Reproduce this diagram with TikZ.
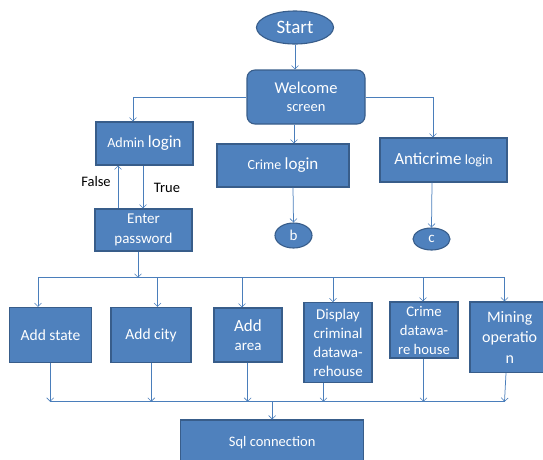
\documentclass[tikz,border=0pt]{standalone}
\usepackage{fontspec}
\setmainfont{Carlito}
\usetikzlibrary{shapes.geometric,arrows.meta}
\definecolor{boxfill}{HTML}{4F81BD}
\definecolor{boxline}{HTML}{385D8A}
\definecolor{conn}{HTML}{4A7EBB}
\tikzset{
  box/.style={rectangle,draw=boxline,fill=boxfill,line width=1.1pt,inner sep=0pt,
    text=white,align=center,font=\fontsize{15}{19}\selectfont},
  oval/.style={ellipse,draw=boxline,fill=boxfill,line width=1.1pt,inner sep=0pt,
    text=white,align=center,font=\fontsize{15}{19}\selectfont},
  arr/.style={draw=conn,line width=0.75pt,-{Straight Barb[length=3.5pt,width=7pt,line width=0.6pt]}},
  ln/.style={draw=conn,line width=0.75pt},
  lbl/.style={text=black,font=\fontsize{14.5}{17}\selectfont,inner sep=0pt}
}
\begin{document}
\begin{tikzpicture}[x=1pt,y=-1pt]
\useasboundingbox (0,0) rectangle (543,459);
% nodes
\node[oval,minimum width=77pt,minimum height=33pt,font=\fontsize{19}{22}\selectfont] (start) at (295,27.5) {Start};
\node[box,rounded corners=8pt,minimum width=118pt,minimum height=54pt] (welcome) at (306,97)
  {{\fontsize{16.5}{21}\selectfont Welcome}\\[-1pt]{\fontsize{14.5}{21}\selectfont screen}};
\node[box,minimum width=97pt,minimum height=43pt] (admin) at (144.5,143.5)
  {{\fontsize{14}{17}\selectfont Admin} {\fontsize{17}{17}\selectfont login}};
\node[box,minimum width=97pt,minimum height=42pt,font=\fontsize{15}{20}\selectfont] (enter) at (143.5,230)
  {Enter\\password};
\node[box,minimum width=132pt,minimum height=43pt] (crime) at (283,165.5)
  {{\fontsize{14}{17}\selectfont Crime} {\fontsize{17}{17}\selectfont login}};
\node[box,minimum width=127pt,minimum height=44pt] (anti) at (443.5,160)
  {{\fontsize{17}{17}\selectfont Anticrime} {\fontsize{14}{17}\selectfont login}};
\node[oval,minimum width=37pt,minimum height=25pt] (b) at (293.5,235.5) {b};
\node[oval,minimum width=37pt,minimum height=22pt] (c) at (431.5,239) {c};
\node[box,minimum width=82.5pt,minimum height=55pt,font=\fontsize{15.5}{19}\selectfont] (state) at (50.5,335) {Add state};
\node[box,minimum width=80pt,minimum height=55pt,font=\fontsize{15.5}{19}\selectfont] (city) at (151,335) {Add city};
\node[box,minimum width=68pt,minimum height=54pt] (area) at (248,335)
  {{\fontsize{17}{20.5}\selectfont Add}\\{\fontsize{15}{20.5}\selectfont area}};
\node[box,minimum width=68pt,minimum height=80pt,font=\fontsize{15}{19}\selectfont] (display) at (338,342.7)
  {Display\\criminal\\datawa-\\rehouse};
\node[box,minimum width=68pt,minimum height=56pt,font=\fontsize{14.7}{19}\selectfont] (cdw) at (424,330)
  {Crime\\datawa-\\re house};
\node[box,minimum width=79.4pt,minimum height=70.7pt,font=\fontsize{16}{20.7}\selectfont] (mining) at (509.7,337.3)
  {Mining\\operatio\\n};
\node[box,minimum width=183pt,minimum height=45pt,font=\fontsize{14.5}{17}\selectfont] (sql) at (272.2,442.5) {Sql connection};
% labels
\node[lbl] (false) at (96,182) {False};
\node[lbl] (true) at (167,188) {True};
% top connectors
\draw[arr] (start.south) -- (start.south |- welcome.north);
\draw[arr] (welcome.west) -| ([xshift=-11.5pt]admin.north);
\draw[arr] (welcome.east) -| ([xshift=-10.5pt]anti.north);
\draw[arr] ([xshift=-12pt]welcome.south) -- ([xshift=-12pt]welcome.south |- crime.north);
\draw[arr] ([xshift=10pt]crime.south) -- (b.north);
\draw[arr] ([xshift=-11.5pt]anti.south) -- (c.north);
\draw[arr] ([xshift=-25.5pt]enter.north) -- ([xshift=-25.5pt]enter.north |- admin.south);
\draw[arr] ([xshift=-1.5pt]admin.south) -- ([xshift=-1.5pt]admin.south |- enter.north);
% upper bus
\coordinate (busL) at (38,277.7);
\coordinate (busR) at (504.5,277.7);
\draw[ln] (busL) -- (busR);
\draw[arr] ([xshift=-5.5pt]enter.south) -- ([xshift=-5.5pt]enter.south |- busL);
\coordinate (u1) at (38,277.7);
\coordinate (u2) at (157.5,277.7);
\coordinate (u3) at (242,277.7);
\coordinate (u4) at (333,277.7);
\coordinate (u5) at (423,277.7);
\coordinate (u6) at (504.5,277.7);
\draw[arr] (u1) -- (u1 |- state.north);
\draw[arr] (u2) -- (u2 |- city.north);
\draw[arr] (u3) -- (u3 |- area.north);
\draw[arr] (u4) -- (u4 |- display.north);
\draw[arr] (u5) -- (u5 |- cdw.north);
\draw[arr] (u6) -- (u6 |- mining.north);
% lower bus
\coordinate (lbL) at (50.2,401.7);
\coordinate (lbR) at (504.5,401.7);
\draw[ln] (lbL) -- (lbR);
\draw[arr] ([xshift=-0.3pt]state.south) -- ([xshift=-0.3pt]state.south |- lbL);
\draw[arr] ([xshift=0.3pt]city.south) -- ([xshift=0.3pt]city.south |- lbL);
\draw[arr] ([xshift=-0.3pt]area.south) -- ([xshift=-0.3pt]area.south |- lbL);
\draw[arr] ([xshift=-14.5pt]display.south) -- ([xshift=-14.5pt]display.south |- lbL);
\draw[arr] ([xshift=-0.5pt]cdw.south) -- ([xshift=-0.5pt]cdw.south |- lbL);
\draw[arr] ([xshift=-3.7pt]mining.south) -- (lbR);
\coordinate (lbM) at (272.2,401.7);
\draw[arr] (lbM) -- (sql.north);
\end{tikzpicture}
\end{document}
